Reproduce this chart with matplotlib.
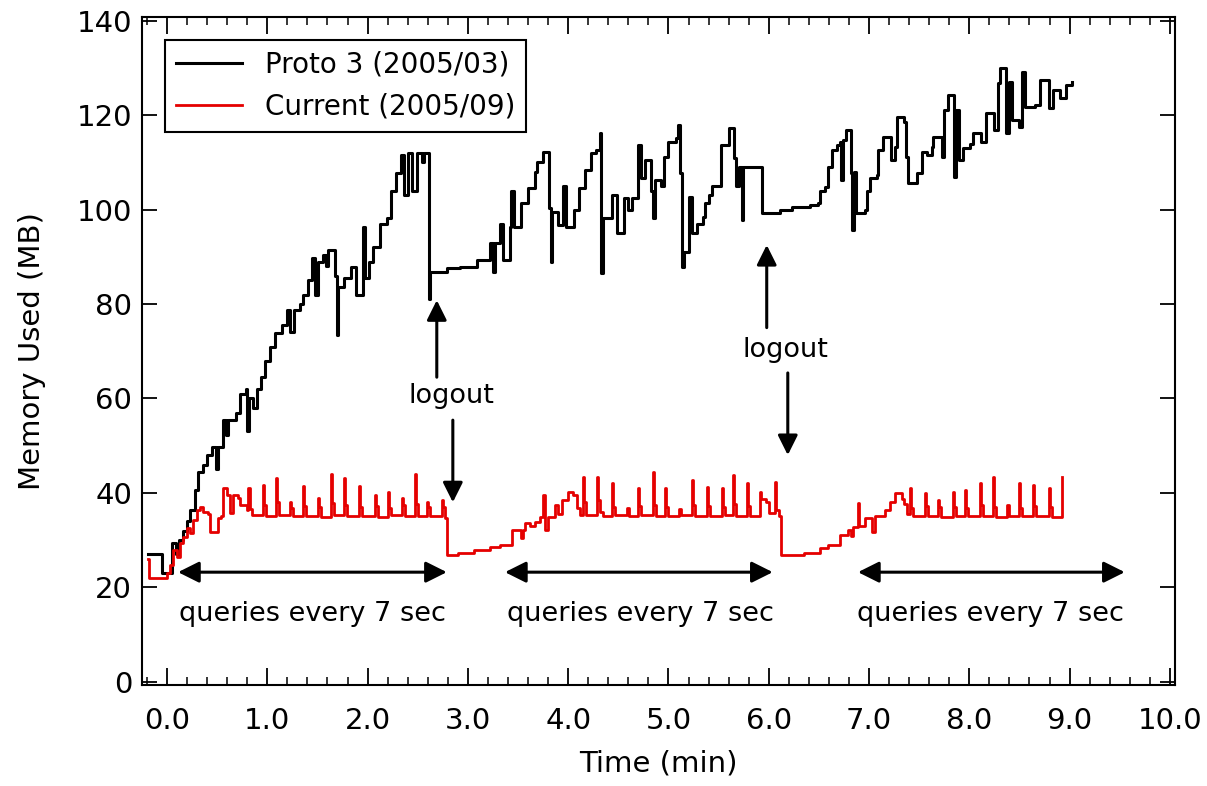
import matplotlib
matplotlib.use('Agg')
import matplotlib.pyplot as plt
from matplotlib.ticker import MultipleLocator, FormatStrFormatter

# Proto 3 (2005/03) memory trace (minutes, MB)
proto_time = [-0.19, -0.05, 0.05, 0.09, 0.12, 0.16, 0.20, 0.23, 0.28, 0.31, 0.36, 0.40, 0.45, 0.49,
              0.51, 0.56, 0.59, 0.61, 0.69, 0.73, 0.79, 0.80, 0.82, 0.86, 0.90, 0.94, 0.98, 1.03,
              1.08, 1.15, 1.20, 1.23, 1.27, 1.33, 1.36, 1.41, 1.45, 1.48, 1.51, 1.56, 1.59, 1.61,
              1.68, 1.695, 1.705, 1.76, 1.83, 1.88, 1.95, 1.975, 2.01, 2.05, 2.12, 2.19, 2.23,
              2.28, 2.33, 2.36, 2.40, 2.44, 2.49, 2.54, 2.56, 2.61, 2.625, 2.79, 2.92, 3.09, 3.22,
              3.25, 3.27, 3.32, 3.35, 3.42, 3.43, 3.46, 3.53, 3.60, 3.67, 3.69, 3.75, 3.81, 3.825,
              3.84, 3.90, 3.95, 3.975, 4.06, 4.11, 4.17, 4.23, 4.28, 4.32, 4.33, 4.345, 4.44, 4.49,
              4.56, 4.60, 4.64, 4.70, 4.73, 4.77, 4.83, 4.85, 4.87, 4.93, 4.96, 5.00, 5.08, 5.10,
              5.12, 5.135, 5.16, 5.20, 5.23, 5.28, 5.34, 5.36, 5.40, 5.43, 5.52, 5.60, 5.65, 5.67,
              5.70, 5.73, 5.745, 5.93, 6.11, 6.23, 6.41, 6.49, 6.51, 6.56, 6.59, 6.63, 6.68, 6.71,
              6.725, 6.74, 6.77, 6.82, 6.835, 6.855, 6.87, 6.96, 6.98, 7.01, 7.08, 7.09, 7.14, 7.22,
              7.26, 7.28, 7.35, 7.37, 7.39, 7.48, 7.53, 7.58, 7.63, 7.64, 7.73, 7.75, 7.79, 7.85,
              7.87, 7.895, 7.94, 8.01, 8.04, 8.12, 8.17, 8.25, 8.29, 8.31, 8.37, 8.40, 8.425, 8.50,
              8.53, 8.56, 8.66, 8.70, 8.79, 8.83, 8.90, 8.96, 9.02]
proto_mem = [27, 23, 29.4, 27, 30, 32, 34, 36.4, 40.6, 44.4, 46, 48, 49.7, 45,
             49.7, 55.4, 52.2, 55.4, 57, 61, 62, 53, 60, 58, 62, 64.5, 68, 71,
             73.8, 75.5, 78.7, 74, 78.7, 80, 82, 85, 89.7, 82, 89, 90.4, 88, 91.4,
             86, 73.4, 83.6, 85.6, 87.8, 82, 96.3, 85.6, 89, 92, 97, 98.2, 104,
             107.7, 111.5, 103, 112, 104, 112, 110, 112, 81, 86.8, 87.6, 87.8, 89.3, 93,
             86.8, 93, 97, 89.3, 96.3, 104, 96.3, 101.4, 104.6, 108, 110, 112.2, 100.3, 89,
             99.5, 96.7, 105, 96.3, 100, 104.6, 108.4, 112, 112.6, 116.2, 86.6, 98.2, 103, 95,
             102.4, 100, 102.4, 113.7, 106.7, 110.5, 104, 98.2, 106.3, 105, 111.2, 114.3, 115.2, 118,
             107.7, 87.8, 91, 102.6, 95, 97, 98.4, 101.4, 103, 105, 113.7, 117.3, 110.9, 105,
             109, 97.8, 109, 99.3, 100, 100.5, 101, 101.4, 104, 104.8, 109, 112.6, 113.7, 114.3,
             106.3, 114.7, 116.9, 107.7, 95.7, 108, 99.3, 100, 104, 106.7, 107.3, 112.6, 115.4, 110.5,
             113.3, 119.7, 118.6, 111.2, 105.6, 107.7, 112.2, 111.5, 113.3, 115.4, 111.2, 121, 124.3, 107,
             121, 110.5, 113, 114, 116.2, 114.3, 120.5, 116.9, 126.8, 130, 116.2, 127, 119, 117.5,
             129.2, 121.8, 122.2, 127.5, 121.5, 125.3, 123.6, 126.4, 127]

# Current (2005/09) memory trace
current_time = [-0.19, -0.18, 0.00, 0.03, 0.06, 0.10, 0.13, 0.16, 0.20, 0.23, 0.26, 0.30, 0.33, 0.36,
                0.41, 0.43, 0.51, 0.54, 0.56, 0.60, 0.63, 0.66, 0.71, 0.73, 0.80, 0.81, 0.83, 0.85,
                0.96, 0.97, 0.99, 1.09, 1.10, 1.12, 1.23, 1.24, 1.26, 1.36, 1.37, 1.39,
                1.51, 1.52, 1.54, 1.64, 1.65, 1.67, 1.76, 1.77, 1.79, 1.91, 1.92, 1.94,
                2.07, 2.08, 2.10, 2.20, 2.21, 2.23, 2.34, 2.35, 2.37, 2.47, 2.48, 2.50,
                2.59, 2.60, 2.62, 2.74, 2.75, 2.77, 2.79,
                2.90, 3.06, 3.22, 3.32, 3.44, 3.53, 3.55, 3.57, 3.62, 3.67, 3.72, 3.75, 3.77, 3.80,
                3.87, 3.90, 3.94, 4.00, 4.05, 4.09, 4.12, 4.15, 4.16, 4.18, 4.29, 4.30, 4.32, 4.35,
                4.44, 4.45, 4.47, 4.59, 4.61, 4.70, 4.71, 4.73, 4.85, 4.86, 4.88, 4.97, 4.98, 5.00,
                5.11, 5.13, 5.23, 5.24, 5.26, 5.38, 5.39, 5.41, 5.53, 5.54, 5.56, 5.64, 5.65, 5.67,
                5.78, 5.79, 5.81, 5.91, 5.92, 5.97, 6.00, 6.06, 6.07, 6.10, 6.12,
                6.35, 6.51, 6.59, 6.71, 6.79, 6.82, 6.84, 6.89, 6.90, 6.96, 7.03, 7.06, 7.16, 7.21,
                7.26, 7.33, 7.35, 7.38, 7.41, 7.42, 7.44, 7.56, 7.57, 7.59, 7.69, 7.70, 7.72,
                7.84, 7.85, 7.87, 7.96, 7.97, 7.99, 8.11, 8.12, 8.14, 8.24, 8.25, 8.27, 8.38, 8.40,
                8.50, 8.51, 8.53, 8.64, 8.65, 8.67, 8.79, 8.80, 8.82, 8.92]
current_mem = [26, 22, 23, 24.7, 28, 26.5, 29.4, 30.7, 32.5, 31.5, 34.2, 36.4, 37, 36,
               35.5, 31.7, 34.6, 35, 41, 39.5, 35.7, 39.5, 39, 37.4, 36.4, 41, 36.5, 35.3,
               41.7, 37.5, 35.0, 43.1, 38.0, 35.4, 38.0, 36.8, 35.0, 41.5, 37.2, 35.2,
               38.9, 37.0, 34.8, 44.0, 37.8, 35.3, 43.1, 37.5, 35.0, 41.5, 36.9, 35.2,
               39.5, 37.2, 34.9, 40.2, 36.8, 35.3, 38.9, 37.4, 35.1, 44.0, 37.6, 35.2,
               38.0, 36.9, 35.0, 38.5, 37.0, 34.6, 26.8,
               27.2, 27.9, 28.5, 29.0, 32.1, 30.5, 32.1, 33.6, 33.0, 33.8, 34.9, 39.5, 32.1, 34.9,
               37.4, 35.5, 38.5, 40.2, 39.5, 36.7, 35.3, 43.4, 38.0, 35.4, 43.4, 38.5, 36.0, 35.2,
               42.0, 37.0, 35.3, 36.8, 35.1, 41.0, 37.2, 35.4, 44.4, 37.5, 35.2, 41.0, 37.0, 35.0,
               36.6, 35.3, 42.7, 37.4, 35.2, 41.3, 37.2, 35.0, 41.0, 36.9, 35.3, 43.8, 37.6, 35.1,
               42.0, 37.3, 35.2, 40.2, 38.8, 38.0, 35.8, 42.3, 36.3, 35.0, 26.8,
               27.2, 28.3, 29.0, 31.1, 32.1, 30.8, 32.8, 37.8, 33.0, 34.6, 31.7, 35.0, 36.4, 38.0,
               39.9, 38.8, 37.6, 35.5, 41.0, 36.8, 35.0, 39.9, 37.2, 35.2, 38.5, 36.9, 34.8,
               40.2, 37.0, 35.1, 40.6, 36.8, 35.0, 42.0, 37.4, 35.2, 43.4, 37.1, 34.9, 37.4, 35.2,
               42.0, 36.8, 35.0, 41.7, 37.3, 35.1, 41.0, 36.9, 34.8, 43.4]

# query periods (double arrows) and logout markers
query_start = [0.11, 3.37, 6.89]
query_end = [2.79, 6.04, 9.55]
query_label_x = [1.45, 4.72, 8.21]
logout_x = [2.69, 5.98]
logout_up_tip = [80.8, 92.5]
logout_up_tail = [64.5, 75.0]
logout_text_x = [2.84, 6.17]
logout_text_y = [59.0, 68.8]
logout_down_x = [2.85, 6.19]
logout_down_top = [55.4, 65.4]
logout_down_tip = [38.0, 48.0]

fig = plt.figure(figsize=(12.07, 7.86), dpi=100)
ax = fig.add_axes([0.1176, 0.1285, 0.8558, 0.8499])

ax.plot(proto_time, proto_mem, drawstyle='steps-post', color='black', lw=2.2, label='Proto 3 (2005/03)')
ax.plot(current_time, current_mem, drawstyle='steps-post', color='#e50000', lw=2.0, label='Current (2005/09)')

# annotations
for x0, x1, xt in zip(query_start, query_end, query_label_x):
    ax.annotate('', xy=(x1, 23.2), xytext=(x0, 23.2),
                arrowprops=dict(arrowstyle='<|-|>', color='black', lw=2.2, mutation_scale=32, shrinkA=0, shrinkB=0))
    ax.text(xt, 14.3, 'queries every 7 sec', fontsize=19.5, ha='center', va='center')

for i in range(len(logout_x)):
    ax.annotate('', xy=(logout_x[i], logout_up_tip[i]), xytext=(logout_x[i], logout_up_tail[i]),
                arrowprops=dict(arrowstyle='-|>', color='black', lw=2.2, mutation_scale=30, shrinkA=0, shrinkB=0))
    ax.text(logout_text_x[i], logout_text_y[i], 'logout', fontsize=19.5, ha='center', va='baseline')
    ax.annotate('', xy=(logout_down_x[i], logout_down_tip[i]), xytext=(logout_down_x[i], logout_down_top[i]),
                arrowprops=dict(arrowstyle='-|>', color='black', lw=2.2, mutation_scale=30, shrinkA=0, shrinkB=0))

ax.set_xlim(-0.25, 10.05)
ax.set_ylim(-0.7, 140.8)
ax.xaxis.set_major_locator(MultipleLocator(1.0))
ax.xaxis.set_minor_locator(MultipleLocator(0.2))
ax.xaxis.set_major_formatter(FormatStrFormatter('%.1f'))
ax.yaxis.set_major_locator(MultipleLocator(20))
ax.tick_params(axis='x', which='major', direction='in', length=12, width=1.3, top=True, labelsize=21, pad=16)
ax.tick_params(axis='x', which='minor', direction='in', length=6, width=1.1, top=True)
ax.tick_params(axis='y', which='major', direction='in', length=11, width=1.3, right=True, labelsize=21, pad=7)
for s in ax.spines.values():
    s.set_linewidth(1.5)

ax.set_xlabel('Time (min)', fontsize=21, labelpad=10)
ax.set_ylabel('Memory Used (MB)', fontsize=21, labelpad=22)

leg = ax.legend(loc='upper left', bbox_to_anchor=(0.022, 0.966), borderaxespad=0, fontsize=20,
                handlelength=2.4, fancybox=False, framealpha=1, edgecolor='black')
leg.get_frame().set_linewidth(1.5)

plt.savefig('out.png', dpi=100)
